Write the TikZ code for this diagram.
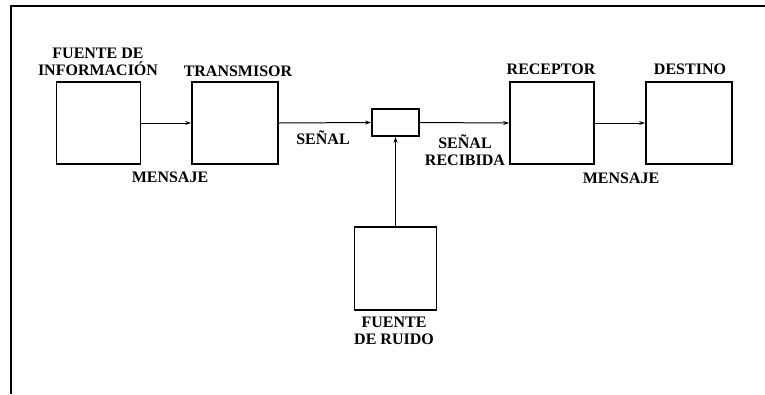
\documentclass[tikz,border=0pt]{standalone}
\usepackage{fontspec}
\setmainfont{Liberation Serif}
\usepackage{tikz}
\usetikzlibrary{arrows.meta, positioning}

\begin{document}
\begin{tikzpicture}[x=1bp, y=-1bp, >={Stealth[length=6bp, width=4bp]},
    bloque/.style={draw, line width=1.8bp, minimum width=84bp, minimum height=82bp, inner sep=0pt},
    rotulo/.style={font=\bfseries\fontsize{16bp}{17.5bp}\selectfont, align=center, inner sep=0pt},
    flecha/.style={->, line width=1bp}]
    \useasboundingbox (0,0) rectangle (765,394);

    % Marco
    \draw[line width=2.5bp] (765,6) -- (11,6) -- (11,394);

    % Bloques
    \node[bloque] (fuente) at (98.5,123) {};
    \node[bloque, minimum width=86bp] (transmisor) at (235,123) {};
    \node[bloque, minimum width=47bp, minimum height=27bp] (canal) at (395.5,122.5) {};
    \node[bloque] (receptor) at (552,123) {};
    \node[bloque, minimum width=86bp] (destino) at (689,123) {};
    \node[bloque, minimum width=82bp, minimum height=83bp] (ruido) at (395.5,268.5) {};

    % Rotulos
    \node[rotulo] (lfuente) at (98,62) {FUENTE DE\\INFORMACIÓN};
    \node[rotulo] (ltransmisor) at (238,71) {TRANSMISOR};
    \node[rotulo] (lreceptor) at (551,69) {RECEPTOR};
    \node[rotulo] (ldestino) at (690,69) {DESTINO};
    \node[rotulo] (lmensaje1) at (170,177) {MENSAJE};
    \node[rotulo] (lsenal) at (323,138) {SEÑAL};
    \node[rotulo] (lrecibida) at (465,150) {SEÑAL\\RECIBIDA};
    \node[rotulo] (lmensaje2) at (621,178) {MENSAJE};
    \node[rotulo] (lruido) at (394,331) {FUENTE\\DE RUIDO};

    % Conexiones
    \draw[flecha] (fuente.east) -- (transmisor.west);
    \draw[flecha] (transmisor.east) -- (canal.west);
    \draw[flecha] (canal.east) -- (receptor.west);
    \draw[flecha] (receptor.east) -- (destino.west);
    \draw[flecha] (ruido.north) -- (canal.south);
\end{tikzpicture}
\end{document}
